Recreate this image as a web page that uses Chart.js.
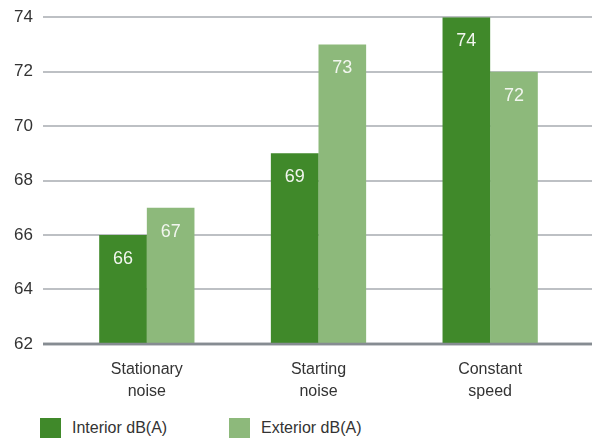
<!DOCTYPE html>
<html>
<head>
<meta charset="utf-8">
<script src="https://cdn.jsdelivr.net/npm/chart.js@4"></script>
<style>
  html, body { margin: 0; padding: 0; background: #fff; overflow: hidden; }
  #wrap { position: relative; width: 592px; height: 438px; overflow: hidden; }
  canvas { position: absolute; left: 0; top: -21px; }
  .leg { position: absolute; top: 418px; height: 20px; font: 16px "Liberation Sans", Arial, sans-serif; color: #333; line-height: 20px; white-space: nowrap; }
  .leg span.box { display: inline-block; width: 21px; height: 20px; vertical-align: top; margin-right: 11px; }
</style>
</head>
<body>
<div id="wrap">
  <canvas id="c" width="592" height="439"></canvas>
  <div class="leg" style="left:40px"><span class="box" style="background:#40892a"></span>Interior dB(A)</div>
  <div class="leg" style="left:229px"><span class="box" style="background:#8db97b"></span>Exterior dB(A)</div>
</div>
<script>
const categories = [["Stationary", "noise"], ["Starting", "noise"], ["Constant", "speed"]];
const seriesNames = ["Interior dB(A)", "Exterior dB(A)"];
const interior = [66, 69, 74];
const exterior = [67, 73, 72];
const yTicks = [62, 64, 66, 68, 70, 72, 74];

const gridPlugin = {
  id: 'fullGrid',
  beforeDatasetsDraw(chart) {
    const ctx = chart.ctx;
    const y = chart.scales.y;
    ctx.save();
    yTicks.forEach(v => {
      const py = Math.round(y.getPixelForValue(v));
      const base = v === yTicks[0];
      ctx.strokeStyle = base ? '#868c92' : '#a7abb0';
      ctx.lineWidth = base ? 2.5 : 1.5;
      ctx.beginPath();
      ctx.moveTo(43, py);
      ctx.lineTo(592, py);
      ctx.stroke();
    });
    ctx.restore();
  },
  afterDatasetsDraw(chart) {
    const ctx = chart.ctx;
    const y = chart.scales.y;
    ctx.save();
    const py = Math.round(y.getPixelForValue(yTicks[0]));
    ctx.strokeStyle = '#868c92';
    ctx.lineWidth = 2.5;
    ctx.beginPath();
    ctx.moveTo(43, py);
    ctx.lineTo(592, py);
    ctx.stroke();
    ctx.fillStyle = '#f2f6ef';
    ctx.font = '18px "Liberation Sans", Arial, sans-serif';
    ctx.textAlign = 'center';
    ctx.textBaseline = 'middle';
    chart.data.datasets.forEach((ds, di) => {
      chart.getDatasetMeta(di).data.forEach((bar, i) => {
        ctx.fillText(String(ds.data[i]), bar.x, bar.y + 24);
      });
    });
    ctx.restore();
  }
};

new Chart(document.getElementById('c'), {
  type: 'bar',
  data: {
    labels: categories,
    datasets: [
      { label: seriesNames[0], data: interior, backgroundColor: '#40892a', borderWidth: 0 },
      { label: seriesNames[1], data: exterior, backgroundColor: '#8db97b', borderWidth: 0 }
    ]
  },
  options: {
    responsive: false,
    animation: false,
    layout: { padding: { top: 17, right: 16, bottom: 0, left: 0 } },
    plugins: { legend: { display: false }, tooltip: { enabled: false } },
    scales: {
      x: {
        grid: { display: false, drawTicks: false },
        border: { display: false },
        ticks: {
          color: '#333',
          font: { family: '"Liberation Sans", Arial, sans-serif', size: 16, lineHeight: 1.38 },
          padding: 15,
          maxRotation: 0
        }
      },
      y: {
        min: 62, max: 74,
        afterFit(scale) { scale.width = 61; },
        afterBuildTicks(scale) { scale.ticks = yTicks.map(v => ({ value: v })); },
        grid: { display: false, drawTicks: false },
        border: { display: false },
        ticks: {
          color: '#333',
          font: { family: '"Liberation Sans", Arial, sans-serif', size: 17 },
          padding: 28
        }
      }
    },
    datasets: { bar: { categoryPercentage: 0.555, barPercentage: 1 } }
  },
  plugins: [gridPlugin]
});
</script>
</body>
</html>
